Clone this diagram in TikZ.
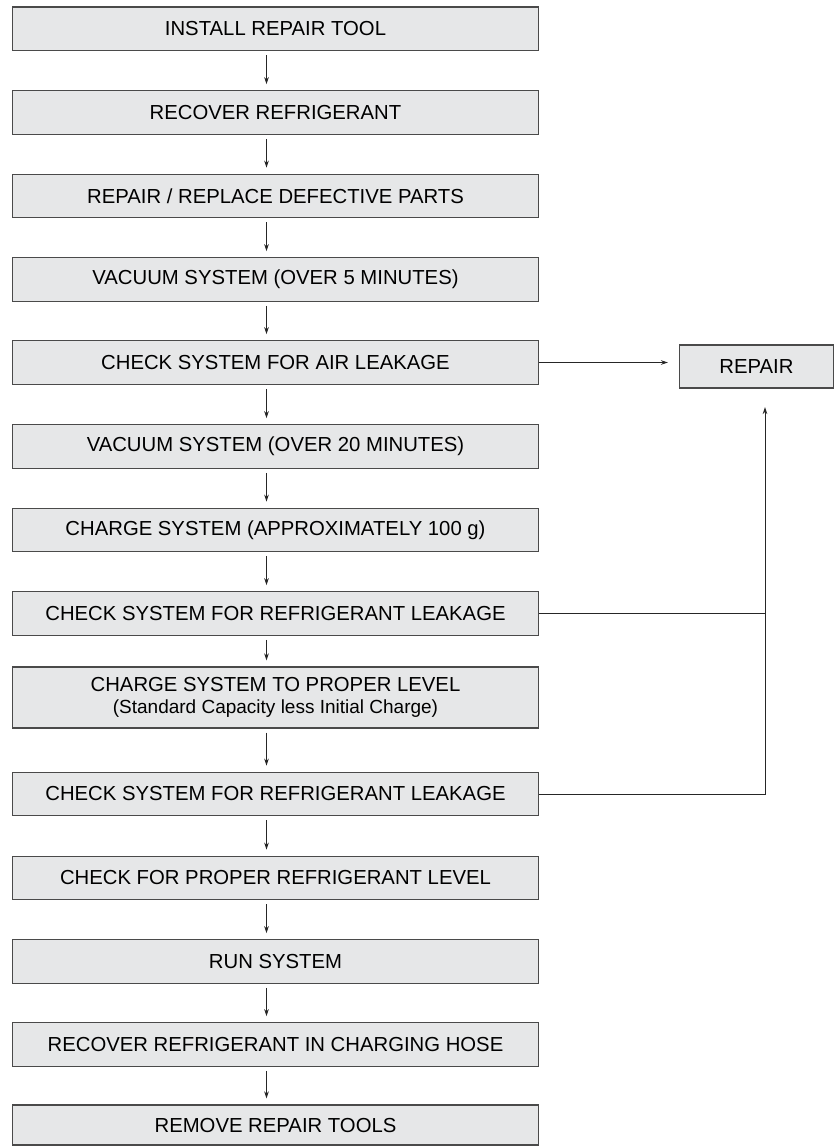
\documentclass[tikz,border=0pt]{standalone}
\usepackage{fontspec}
\setmainfont{Liberation Sans}
\usepackage{xcolor}
\usetikzlibrary{arrows.meta, calc}
\definecolor{boxfill}{HTML}{E6E7E8}
\definecolor{boxline}{HTML}{4A4A4A}

\begin{document}
\begin{tikzpicture}[x=1pt, y=1pt,
    every node/.style={align=center},
    stepbox/.style={draw=boxline, fill=boxfill, line width=1.1pt, minimum width=526pt, minimum height=43.5pt, inner sep=0pt, font=\fontsize{20.3}{23}\selectfont},
    flow/.style={line width=0.9pt, draw=black!85, -{Stealth[length=7pt, width=4.5pt]}},
    feed/.style={line width=0.9pt, draw=black!85}]
  \useasboundingbox (0,0) rectangle (834,-1146);

  % Main sequence
  \node[stepbox] (install)  at (275.5,-28.75)  {INSTALL REPAIR TOOL};
  \node[stepbox] (recover)  at (275.5,-112.5)  {RECOVER REFRIGERANT};
  \node[stepbox] (replace)  at (275.5,-196)    {REPAIR / REPLACE DEFECTIVE PARTS};
  \node[stepbox] (vacfive)  at (275.5,-279.5)  {VACUUM SYSTEM (OVER 5 MINUTES)};
  \node[stepbox] (airleak)  at (275.5,-362.5)  {CHECK SYSTEM FOR AIR LEAKAGE};
  \node[stepbox] (vactwenty) at (275.5,-446.5) {VACUUM SYSTEM (OVER 20 MINUTES)};
  \node[stepbox] (charge)   at (275.5,-530)    {CHARGE SYSTEM (APPROXIMATELY 100 g)};
  \node[stepbox] (leakone)  at (275.5,-613.5)  {CHECK SYSTEM FOR REFRIGERANT LEAKAGE};
  \node[stepbox, minimum height=61pt] (level) at (275.5,-697.5)
    {CHARGE SYSTEM TO PROPER LEVEL\\[-1pt] {\fontsize{19}{21}\selectfont (Standard Capacity less Initial Charge)}};
  \node[stepbox] (leaktwo)  at (275.5,-794)    {CHECK SYSTEM FOR REFRIGERANT LEAKAGE};
  \node[stepbox] (proper)   at (275.5,-878)    {CHECK FOR PROPER REFRIGERANT LEVEL};
  \node[stepbox] (run)      at (275.5,-961.5)  {RUN SYSTEM};
  \node[stepbox] (hose)     at (275.5,-1044.5) {RECOVER REFRIGERANT IN CHARGING HOSE};
  \node[stepbox, minimum height=40pt] (remove) at (275.5,-1125) {REMOVE REPAIR TOOLS};

  % Repair branch
  \node[stepbox, minimum width=154pt, minimum height=43pt] (repair) at (756.5,-366.5) {REPAIR};

  % Arrows down the sequence
  \foreach \a/\b in {install/recover, recover/replace, replace/vacfive, vacfive/airleak,
                     airleak/vactwenty, vactwenty/charge, charge/leakone, leakone/level,
                     level/leaktwo, leaktwo/proper, proper/run, run/hose, hose/remove}
    \draw[flow, shorten <=4pt, shorten >=6pt] ([xshift=-9pt]\a.south) -- ([xshift=-9pt]\b.north);

  % Leak checks to repair
  \coordinate (toRepair) at (668,-362.5);
  \coordinate (joint) at (765,-794);
  \coordinate (upTip) at (765,-407);
  \draw[flow] (airleak.east) -- (toRepair);
  \draw[feed] (leakone.east) -- (leakone.east -| joint);
  \draw[flow] (leaktwo.east) -- (joint) -- (upTip);
\end{tikzpicture}
\end{document}
